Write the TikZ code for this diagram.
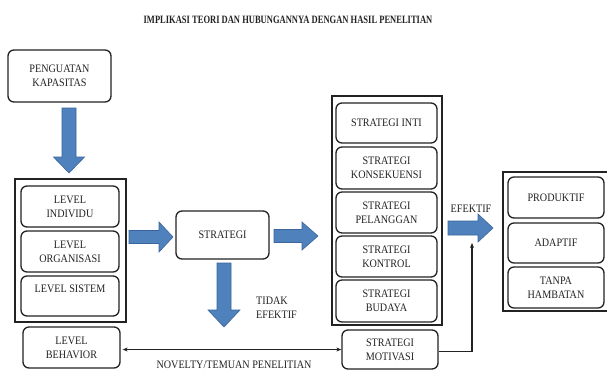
\documentclass[tikz,border=0pt]{standalone}
\usepackage{fontspec}
\setmainfont{Liberation Serif}
\newfontfamily\narrowserif[FakeStretch=0.89]{Liberation Serif}
\newfontfamily\titleserif[FakeStretch=0.76]{Liberation Serif}
\usetikzlibrary{arrows.meta}
\definecolor{arrfill}{HTML}{4F81BD}
\definecolor{arrdraw}{HTML}{3A659A}
\definecolor{ink}{HTML}{222222}
\tikzset{
  rbox/.style={draw=ink, line width=1.3pt, rounded corners=6pt, align=center, inner sep=0pt,
    font=\narrowserif\fontsize{11.4}{14}\selectfont, text=ink},
  frame/.style={draw=ink, line width=1.3pt, inner sep=0pt},
  barrow/.style={fill=arrfill, draw=arrdraw, line width=0.6pt, line join=miter},
  thinarrow/.style={draw=ink, line width=1.1pt},
  lbl/.style={font=\narrowserif\fontsize{11.4}{14}\selectfont, text=ink, inner sep=0pt}
}
% horizontal block arrow: x1, x2, y, shaft half, head half, head base x
\newcommand\hbarrow[6]{\draw[barrow] (#1,{#3-#4}) -- (#6,{#3-#4}) -- (#6,{#3-#5}) -- (#2,#3) -- (#6,{#3+#5}) -- (#6,{#3+#4}) -- (#1,{#3+#4}) -- cycle;}
% vertical block arrow: y1, y2, x, shaft half, head half, head base y
\newcommand\vbarrow[6]{\draw[barrow] ({#3-#4},#1) -- ({#3-#4},#6) -- ({#3-#5},#6) -- (#3,#2) -- ({#3+#5},#6) -- ({#3+#4},#6) -- ({#3+#4},#1) -- cycle;}
\begin{document}
\begin{tikzpicture}[x=1pt,y=-1pt]
\useasboundingbox (0,0) rectangle (607,370);
\fill[white] (0,0) rectangle (607,370);

% title
\node[inner sep=0pt, text=ink, font=\titleserif\fontsize{11.2}{13}\bfseries\selectfont] (title) at (288,20) {IMPLIKASI TEORI DAN HUBUNGANNYA DENGAN HASIL PENELITIAN};

% left column
\node[rbox, minimum width=103pt, minimum height=52pt] (peng) at (59.5,76) {PENGUATAN\\KAPASITAS};
\node[frame, minimum width=111pt, minimum height=143pt] (lframe) at (70.5,250.5) {};
\node[rbox, minimum width=98pt, minimum height=41pt] (indiv) at (70,206.5) {LEVEL\\INDIVIDU};
\node[rbox, minimum width=98pt, minimum height=41pt] (organ) at (70,251.5) {LEVEL\\ORGANISASI};
\node[rbox, minimum width=98pt, minimum height=40pt] (sistem) at (70,296) {LEVEL SISTEM\\\phantom{X}};
\node[rbox, minimum width=97pt, minimum height=41pt] (behav) at (71.5,347.5) {LEVEL\\BEHAVIOR};

% strategi
\node[rbox, minimum width=93pt, minimum height=48pt] (strat) at (222.5,235) {STRATEGI};

% middle-right column
\node[frame, minimum width=110pt, minimum height=229pt] (mframe) at (387,210.5) {};
\node[rbox, minimum width=101pt, minimum height=40pt] (inti) at (386.5,123) {STRATEGI INTI};
\node[rbox, minimum width=101pt, minimum height=42pt] (kons) at (386.5,168) {STRATEGI\\KONSEKUENSI};
\node[rbox, minimum width=101pt, minimum height=41pt] (pel) at (386.5,212.5) {STRATEGI\\PELANGGAN};
\node[rbox, minimum width=101pt, minimum height=41pt] (kont) at (386.5,256.5) {STRATEGI\\KONTROL};
\node[rbox, minimum width=101pt, minimum height=42pt] (bud) at (386.5,301) {STRATEGI\\BUDAYA};
\node[rbox, minimum width=96pt, minimum height=39pt] (motiv) at (390,349.5) {STRATEGI\\MOTIVASI};

% right column
\node[frame, minimum width=105pt, minimum height=139pt] (rframe) at (555.5,241.5) {};
\node[rbox, minimum width=96pt, minimum height=41pt] (prod) at (556,197.5) {PRODUKTIF};
\node[rbox, minimum width=96pt, minimum height=40pt] (adap) at (556,243) {ADAPTIF};
\node[rbox, minimum width=96pt, minimum height=41pt] (tanpa) at (556,287.5) {TANPA\\HAMBATAN};

% block arrows
\vbarrow{108}{173}{69}{7}{15.5}{157}
\hbarrow{129}{173}{237}{6.5}{15}{159}
\hbarrow{274}{318}{236}{6.5}{14}{302}
\vbarrow{263}{327}{224}{7}{16}{310}
\hbarrow{448}{493}{228}{7}{14}{478}

% labels
\node[lbl, anchor=west, align=left] (tidak) at (256,307.5) {TIDAK\\EFEKTIF};
\node[lbl] (efek) at (471,209) {EFEKTIF};
\node[lbl, anchor=base] (novel) at (234,368.5) {NOVELTY/TEMUAN PENELITIAN};

% thin connectors
\coordinate (efin) at (472,243);
\draw[thinarrow, {Stealth[length=5pt,width=4pt]}-{Stealth[length=5pt,width=4pt]}] ([xshift=2pt]behav.east |- motiv.west) -- (motiv.west);
\draw[thinarrow, -{Stealth[length=5pt,width=4pt]}] ([yshift=-2pt]motiv.east) -| (efin);
\end{tikzpicture}
\end{document}
